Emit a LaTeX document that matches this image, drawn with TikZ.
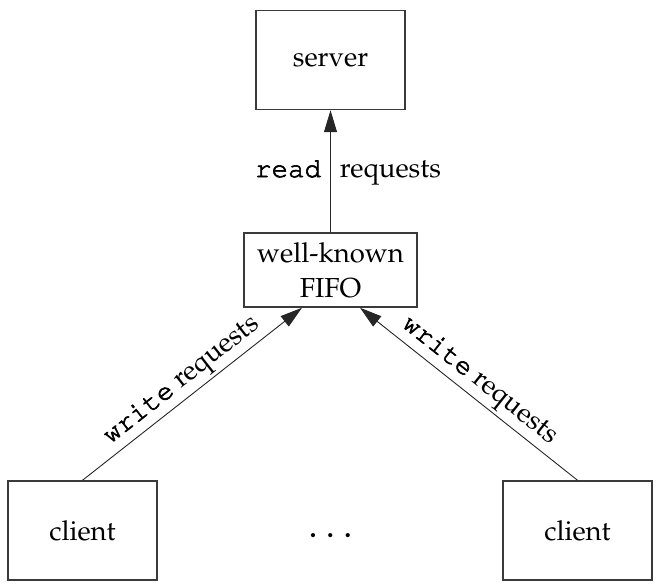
\documentclass[tikz,border=0pt]{standalone}
\usepackage[T1]{fontenc}
\renewcommand{\rmdefault}{ppl}
\renewcommand{\ttdefault}{pcr}
\usetikzlibrary{arrows.meta}
\definecolor{boxgray}{HTML}{3A3A3A}
% Courier, slightly thickened by stroking the glyph outlines
\newcommand{\code}[1]{\special{pdf:literal direct 2 Tr 0.6 w}{\ttfamily #1}\special{pdf:literal direct 0 Tr}}
\begin{document}
\begin{tikzpicture}[x=1pt,y=-1pt,
  txt/.style={font=\fontsize{27.5}{35}\selectfont},
  box/.style={txt, draw=boxgray, line width=1.5pt, minimum width=149pt,
    minimum height=99pt, inner sep=0pt, align=center},
  flow/.style={draw=black!85, line width=0.9pt,
    -{Triangle[length=22pt,width=13pt]}},
  lab/.style={txt, inner sep=0pt},
  slab/.style={txt, sloped, anchor=south, inner sep=3pt}
]
\useasboundingbox (0,0) rectangle (661,588);

% boxes
\node[box] (server) at (330.5,60) {server};
\node[box, minimum width=173pt, minimum height=74pt] (fifo) at (330.5,270)
  {well-known\\FIFO};
\node[box] (clientL) at (82.5,530.5) {client};
\node[box] (clientR) at (577.5,530.5) {client};
\node[font=\fontsize{36}{40}\selectfont, anchor=base, inner sep=0pt] (dots)
  at (330.5,537) {.\kern8.5pt.\kern8.5pt.};

% connectors
\draw[flow] (fifo.north)
  -- node[lab, pos=0.452, anchor=base east, xshift=-9pt] {\code{read}}
     node[lab, pos=0.452, anchor=base west, xshift=9pt] {requests}
  (server.south);
\draw[flow] (clientL.north)
  -- node[slab] {\code{write} requests}
  ([xshift=-28.5pt]fifo.south);
\draw[flow] (clientR.north)
  -- node[slab] {\code{write} requests}
  ([xshift=29.5pt]fifo.south);
\end{tikzpicture}
\end{document}
